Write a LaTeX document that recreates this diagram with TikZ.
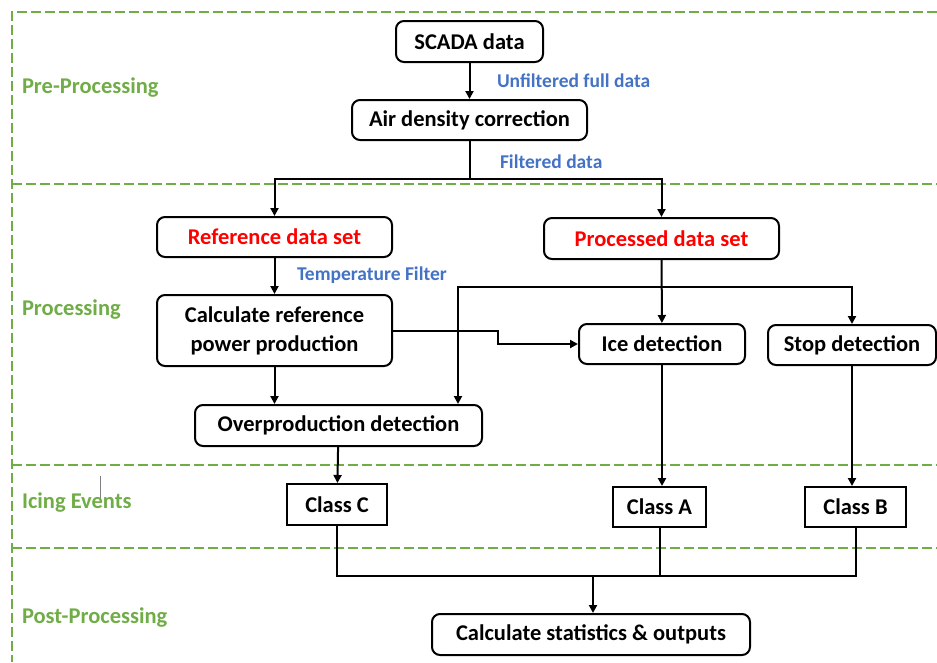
\documentclass[tikz,border=0pt]{standalone}
\usepackage{fontspec}
\setmainfont{Carlito}
\usetikzlibrary{arrows.meta}

\definecolor{stagegreen}{RGB}{112,173,71}
\definecolor{notblue}{RGB}{68,114,196}

\tikzset{
    boxfont/.style = {font=\bfseries\fontsize{22.5}{29}\selectfont},
    roundbox/.style = {boxfont, draw, rounded corners=8pt, inner sep=0pt, align=center},
    classbox/.style = {boxfont, draw, inner sep=0pt},
    stagelabel/.style = {anchor=west, inner sep=0pt, text=stagegreen, font=\bfseries\fontsize{22.5}{26}\selectfont},
    notelabel/.style = {anchor=west, inner sep=0pt, text=notblue, font=\bfseries\fontsize{19.5}{23}\selectfont},
    stageline/.style = {draw=stagegreen, line width=2pt, dash pattern=on 10pt off 4pt},
    arrowline/.style = {-{Triangle[length=8pt, width=8pt]}}
}

\begin{document}
\begin{tikzpicture}[x=1pt, y=-1pt, every path/.style = {line width=2pt}]

        \useasboundingbox (0,0) rectangle (937,662);

        % The stage frame.
        \draw[stageline] (937,12) -- (12,12) -- (12,662);
        \draw[stageline] (12,184) -- (937,184);
        \draw[stageline] (12,465) -- (937,465);
        \draw[stageline] (12,548) -- (937,548);
        \draw[gray, line width=1pt] (100,476) -- (100,500);

        % Stage names.
        \node[stagelabel] (pre) at (21,88) {Pre-Processing};
        \node[stagelabel] (proc) at (21,310) {Processing};
        \node[stagelabel] (icing) at (21,503) {Icing Events};
        \node[stagelabel] (post) at (21,618) {Post-Processing};

        % The boxes.
        \node[roundbox, minimum width=147pt, minimum height=41pt] (scada) at (469.5,41.5) {SCADA data};
        \node[roundbox, minimum width=235pt, minimum height=40pt] (air) at (469.5,120) {Air density correction};
        \node[roundbox, text=red, minimum width=235pt, minimum height=40pt] (refset) at (274.5,237) {Reference data set};
        \node[roundbox, text=red, minimum width=235pt, minimum height=41pt] (procset) at (661.5,238.5) {Processed data set};
        \node[roundbox, minimum width=235pt, minimum height=71pt] (calc) at (274.5,330.5) {Calculate reference\\power production};
        \node[roundbox, minimum width=166pt, minimum height=40pt] (ice) at (662,344) {Ice detection};
        \node[roundbox, minimum width=168pt, minimum height=40pt] (stop) at (852,345) {Stop detection};
        \node[roundbox, minimum width=287pt, minimum height=41pt] (overprod) at (338.5,425.5) {Overproduction detection};
        \node[classbox, minimum width=100pt, minimum height=41pt] (classC) at (337,504.5) {Class C};
        \node[classbox, minimum width=93pt, minimum height=40pt] (classA) at (659.5,507) {Class A};
        \node[classbox, minimum width=101pt, minimum height=40pt] (classB) at (855.5,507) {Class B};
        \node[roundbox, minimum width=318pt, minimum height=41pt] (stats) at (591,634.5) {Calculate statistics \& outputs};

        % Notes on the arrows.
        \node[notelabel] (unfilt) at (496,81) {Unfiltered full data};
        \node[notelabel] (filt) at (499,162) {Filtered data};
        \node[notelabel] (temp) at (296,275) {Temperature Filter};

        % Branch points.
        \coordinate (split) at (469.5,179);
        \coordinate (branch) at (661.5,287);
        \coordinate (merge) at (593,576);

        % Connectors.
        \draw[arrowline] (scada) -- (air);
        \draw (air.south) -- (split);
        \draw[arrowline] (split) -| (refset.north);
        \draw[arrowline] (split) -| (procset.north);
        \draw[arrowline] (refset) -- (calc);
        \draw[arrowline] (procset) -- (ice);
        \draw[arrowline] (branch) -| (stop.north);
        \draw[arrowline] (branch) -| ([xshift=-25pt]overprod.north east);
        \draw[arrowline] (calc.east) -- ++(105,0) |- (ice.west);
        \draw[arrowline] (calc.south) -- (calc.south |- overprod.north);
        \draw[arrowline] (overprod) -- (classC);
        \draw[arrowline] (ice.south) -- (ice.south |- classA.north);
        \draw[arrowline] (stop.south) -- (stop.south |- classB.north);
        \draw (classC.south) |- (merge);
        \draw (classB.south) |- (merge);
        \draw (classA.south) -- (classA.south |- merge);
        \draw[arrowline] (merge) -- (merge |- stats.north);
    \end{tikzpicture}
\end{document}
